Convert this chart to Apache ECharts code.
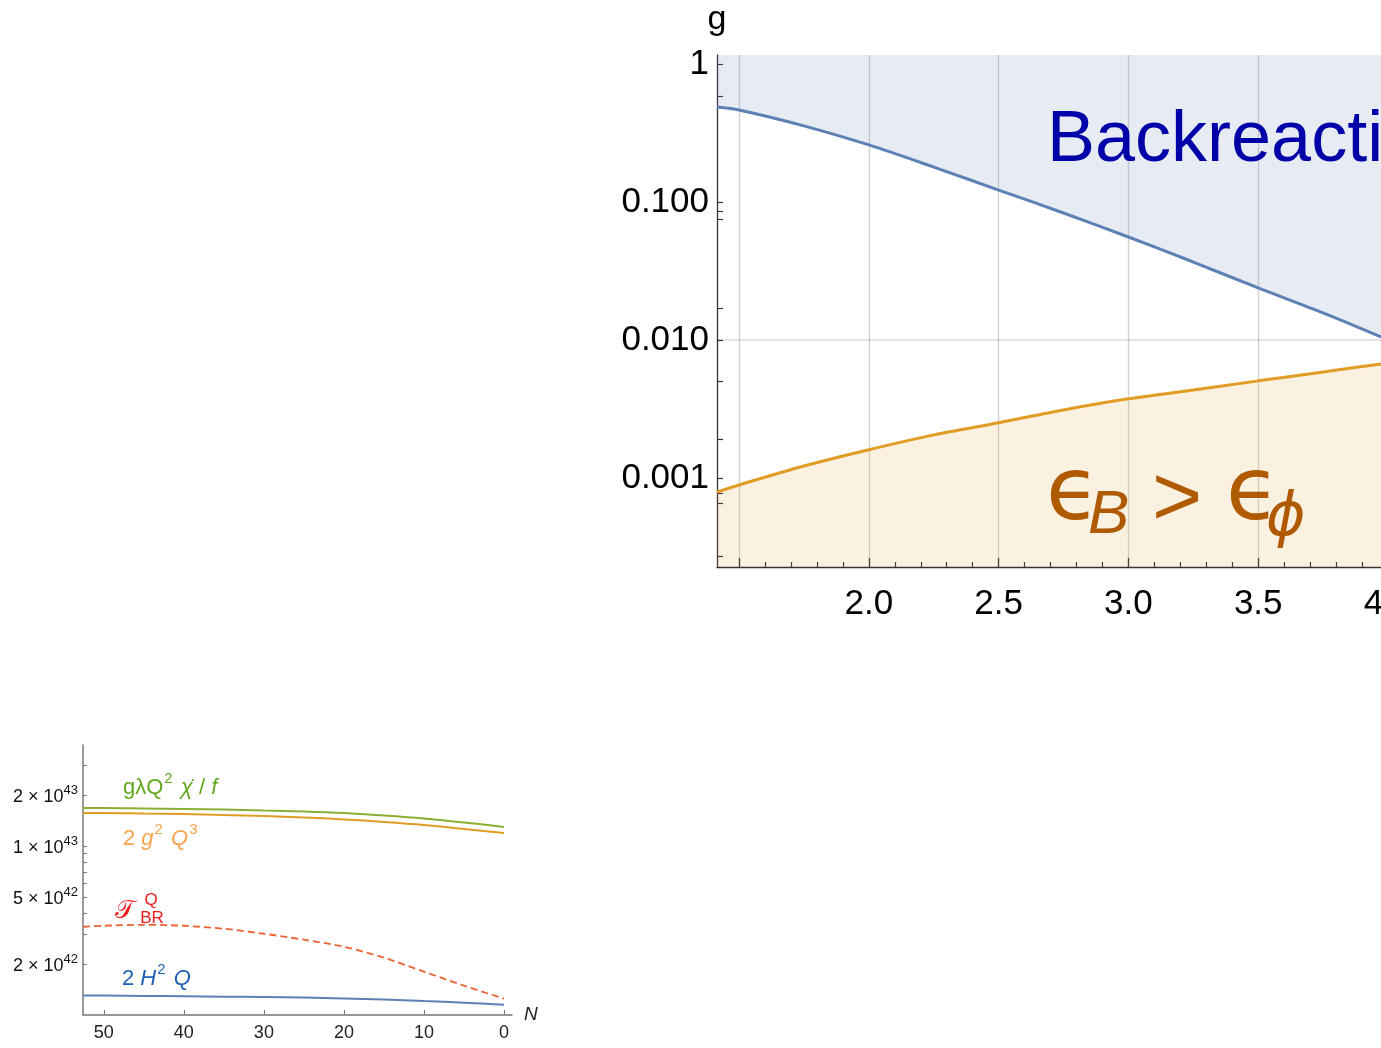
<!DOCTYPE html>
<html>
<head>
<meta charset="utf-8">
<script src="https://cdn.jsdelivr.net/npm/echarts@6/dist/echarts.min.js"></script>
<style>
html,body{margin:0;padding:0;background:#fff;}
#chart{width:1381px;height:1048px;}
</style>
</head>
<body>
<div id="chart"></div>
<script>
// ---------- Top chart data (x vs g, log y) ----------
const topX = [1.415, 1.5, 1.75, 2.0, 2.25, 2.5, 2.75, 3.0, 3.25, 3.5, 3.75, 4.0];
const backreactionG = [0.488, 0.464, 0.356, 0.259, 0.179, 0.122, 0.0832, 0.0557, 0.0367, 0.0238, 0.0157, 0.0100];
const energyG = [0.000792, 0.000889, 0.00122, 0.00160, 0.00205, 0.00251, 0.00311, 0.00374, 0.00434, 0.00505, 0.00586, 0.00681];
const topXMajor = [1.5, 2.0, 2.5, 3.0, 3.5, 4.0];
const topXLabels = [2.0, 2.5, 3.0, 3.5, 4.0];
const topXMinor = [1.6, 1.7, 1.8, 1.9, 2.1, 2.2, 2.3, 2.4, 2.6, 2.7, 2.8, 2.9, 3.1, 3.2, 3.3, 3.4, 3.6, 3.7, 3.8, 3.9];
const topYLabels = [0.001, 0.01, 0.1, 1];
const topYTicks = [0.00027, 0.00066, 0.00078, 0.001, 0.0019, 0.005, 0.01, 0.017, 0.075, 0.085, 0.1, 0.58, 1];

// ---------- Bottom chart data (N vs terms, log y) ----------
const nValues = [52.6, 50, 45, 40, 35, 30, 25, 20, 15, 10, 5, 0];
const termChi = [1.676e43, 1.676e43, 1.665e43, 1.654e43, 1.643e43, 1.620e43, 1.599e43, 1.566e43, 1.514e43, 1.453e43, 1.376e43, 1.295e43];
const termQ3 = [1.566e43, 1.566e43, 1.555e43, 1.545e43, 1.524e43, 1.503e43, 1.473e43, 1.434e43, 1.386e43, 1.330e43, 1.260e43, 1.193e43];
const termBR = [3.325e42, 3.370e42, 3.416e42, 3.370e42, 3.236e42, 3.023e42, 2.787e42, 2.533e42, 2.182e42, 1.804e42, 1.491e42, 1.250e42];
const termH = [1.302e42, 1.302e42, 1.297e42, 1.291e42, 1.284e42, 1.276e42, 1.267e42, 1.250e42, 1.233e42, 1.208e42, 1.183e42, 1.151e42];
const botXTicks = [0, 10, 20, 30, 40, 50];
const botYLabels = [2e42, 5e42, 1e43, 2e43];
const botYTicks = [2e42, 3e42, 4e42, 5e42, 6e42, 7e42, 8e42, 9e42, 1e43, 2e43, 3e43, 4e43];

const pair = (xs, ys) => xs.map((x, i) => [x, ys[i]]);
const FONT = '"Liberation Sans", Arial, sans-serif';

const chart = echarts.init(document.getElementById('chart'), null, {renderer: 'canvas'});

function sciLabel(v) {
  const e = Math.floor(Math.log10(v) + 1e-9);
  const m = Math.round(v / Math.pow(10, e));
  return '{m|' + m + ' \u00d7 10}{s|' + e + '}';
}

const supRich = {
  m: {fontSize: 22, fontFamily: FONT, verticalAlign: 'bottom', lineHeight: 27},
  i: {fontSize: 22, fontFamily: FONT, fontStyle: 'italic', verticalAlign: 'bottom', lineHeight: 27},
  s: {fontSize: 15, fontFamily: FONT, verticalAlign: 'top', lineHeight: 17, padding: [0, 2, 0, 1]}
};

const option = {
  animation: false,
  backgroundColor: '#fff',
  grid: [
    {left: 717, top: 55, width: 671, height: 512, outerBoundsMode: 'none', containLabel: false},
    {left: 83, top: 745, width: 429, height: 270, outerBoundsMode: 'none', containLabel: false}
  ],
  xAxis: [
    {
      type: 'value', gridIndex: 0, min: 1.415, max: 4.0,
      axisLine: {show: true, onZero: false, lineStyle: {color: '#333', width: 1.3}},
      axisTick: {show: true, inside: true, length: 9, customValues: topXMajor, lineStyle: {color: '#333', width: 1.3}},
      axisLabel: {show: true, customValues: topXLabels, formatter: v => Number(v).toFixed(1),
        fontSize: 35, fontFamily: FONT, color: '#000', margin: 20},
      splitLine: {show: true, lineStyle: {color: 'rgba(0,0,0,0.18)', width: 1.3}}
    },
    {
      type: 'value', gridIndex: 0, min: 1.415, max: 4.0, position: 'bottom',
      axisLine: {show: false, onZero: false},
      axisTick: {show: true, inside: true, length: 5, customValues: topXMinor, lineStyle: {color: '#333', width: 1.2}},
      axisLabel: {show: false},
      splitLine: {show: false}
    },
    {
      type: 'value', gridIndex: 1, min: -1, max: 52.6, inverse: true,
      name: 'N', nameLocation: 'start', nameGap: 12,
      nameTextStyle: {fontSize: 19, fontStyle: 'italic', fontFamily: FONT, color: '#222', verticalAlign: 'middle'},
      axisLine: {show: true, onZero: false, lineStyle: {color: '#777', width: 1.5}},
      axisTick: {show: true, inside: true, length: 5, customValues: botXTicks, lineStyle: {color: '#777'}},
      axisLabel: {show: true, customValues: botXTicks, fontSize: 18, fontFamily: FONT, color: '#222', margin: 9},
      splitLine: {show: false}
    }
  ],
  yAxis: [
    {
      type: 'log', logBase: 10, gridIndex: 0, min: 0.000226, max: 1.162, position: 'left',
      name: 'g', nameLocation: 'end', nameGap: 18,
      nameTextStyle: {fontSize: 34, fontFamily: FONT, color: '#000', align: 'center', verticalAlign: 'bottom'},
      axisLine: {show: true, onZero: false, lineStyle: {color: '#333', width: 1.3}},
      axisTick: {show: true, inside: true, length: 6, customValues: topYTicks, lineStyle: {color: '#333', width: 1.2}},
      axisLabel: {show: true, customValues: topYLabels,
        formatter: v => (v >= 0.999 ? '1' : Number(v).toFixed(3)),
        fontSize: 35, fontFamily: FONT, color: '#000', margin: 8},
      splitLine: {show: false}
    },
    {
      type: 'log', logBase: 10, gridIndex: 1, min: 1e42, max: 3.95e43, position: 'left',
      axisLine: {show: true, onZero: false, lineStyle: {color: '#777', width: 1.5}},
      axisTick: {show: true, inside: true, length: 4, customValues: botYTicks, lineStyle: {color: '#777'}},
      axisLabel: {show: true, customValues: botYLabels, formatter: sciLabel, margin: 5,
        rich: {
          m: {fontSize: 18, fontFamily: FONT, color: '#111', verticalAlign: 'bottom', lineHeight: 22},
          s: {fontSize: 13, fontFamily: FONT, color: '#111', verticalAlign: 'top', lineHeight: 13}
        }},
      splitLine: {show: false}
    }
  ],
  series: [
    {
      type: 'line', xAxisIndex: 0, yAxisIndex: 0, data: pair(topX, backreactionG),
      showSymbol: false, smooth: 0.3, z: 3,
      lineStyle: {color: '#5E81B5', width: 3},
      itemStyle: {color: '#5E81B5'},
      areaStyle: {origin: 'end', color: 'rgba(94,129,181,0.21)'},
      markLine: {
        silent: true, symbol: 'none', label: {show: false},
        lineStyle: {color: 'rgba(0,0,0,0.15)', width: 1.5, type: 'solid'},
        data: [{yAxis: 0.01}]
      }
    },
    {
      type: 'line', xAxisIndex: 0, yAxisIndex: 0, data: pair(topX, energyG),
      showSymbol: false, smooth: 0.3, z: 3,
      lineStyle: {color: '#E19C24', width: 3},
      itemStyle: {color: '#E19C24'},
      areaStyle: {origin: 'start', color: 'rgba(225,156,36,0.2)'}
    },
    {
      type: 'line', xAxisIndex: 2, yAxisIndex: 1, data: pair(nValues, termChi),
      showSymbol: false, smooth: 0.3,
      lineStyle: {color: '#8AAF34', width: 2}
    },
    {
      type: 'line', xAxisIndex: 2, yAxisIndex: 1, data: pair(nValues, termQ3),
      showSymbol: false, smooth: 0.3,
      lineStyle: {color: '#E19C24', width: 2}
    },
    {
      type: 'line', xAxisIndex: 2, yAxisIndex: 1, data: pair(nValues, termBR),
      showSymbol: false, smooth: 0.3,
      lineStyle: {color: '#EB6235', width: 1.8, type: [7, 4]}
    },
    {
      type: 'line', xAxisIndex: 2, yAxisIndex: 1, data: pair(nValues, termH),
      showSymbol: false, smooth: 0.3,
      lineStyle: {color: '#5E81B5', width: 2}
    }
  ],
  graphic: [
    {type: 'text', z: 100, style: {x: 1047, y: 141, text: 'Backreaction', font: '72px ' + FONT, fill: '#0000A8', verticalAlign: 'middle', align: 'left'}},
    {type: 'text', z: 100, style: {x: 1046, y: 496, text: '\u03f5', font: '88px "DejaVu Sans"', fill: '#B05A00', verticalAlign: 'middle', align: 'left'}},
    {type: 'text', z: 100, style: {x: 1088, y: 516, text: 'B', font: 'italic 62px ' + FONT, fill: '#B05A00', verticalAlign: 'middle', align: 'left'}},
    {type: 'text', z: 100, style: {x: 1152, y: 501, text: '>', font: '86px ' + FONT, fill: '#B05A00', verticalAlign: 'middle', align: 'left'}},
    {type: 'text', z: 100, style: {x: 1226, y: 496, text: '\u03f5', font: '88px "DejaVu Sans"', fill: '#B05A00', verticalAlign: 'middle', align: 'left'}},
    {type: 'text', z: 100, style: {x: 1266, y: 519, text: '\u03d5', font: 'italic 60px "DejaVu Sans"', fill: '#B05A00', verticalAlign: 'middle', align: 'left'}},

    {type: 'text', z: 100, style: {x: 123, y: 785, text: '{m|g\u03bbQ}{s|2}{m| }{i|\u03c7\u0307}{m| / }{i|f}', rich: supRich, fill: '#62A81F', verticalAlign: 'middle', align: 'left'}},
    {type: 'text', z: 100, style: {x: 123, y: 836, text: '{m|2 }{i|g}{s|2}{m| }{i|Q}{s|3}', rich: supRich, fill: '#F7A24F', verticalAlign: 'middle', align: 'left'}},
    {type: 'text', z: 100, style: {x: 115, y: 911, text: '\ud835\udcaf', font: '26px "DejaVu Serif", "DejaVu Sans", "Noto Sans"', fill: '#EE1C1C', verticalAlign: 'middle', align: 'left'}},
    {type: 'text', z: 100, style: {x: 151, y: 900, text: 'Q', font: '17px ' + FONT, fill: '#EE1C1C', verticalAlign: 'middle', align: 'center'}},
    {type: 'text', z: 100, style: {x: 152, y: 918, text: 'BR', font: '17px ' + FONT, fill: '#EE1C1C', verticalAlign: 'middle', align: 'center'}},
    {type: 'text', z: 100, style: {x: 122, y: 976, text: '{m|2 }{i|H}{s|2}{m| }{i|Q}', rich: supRich, fill: '#1D5FB4', verticalAlign: 'middle', align: 'left'}}
  ]
};
chart.setOption(option);
</script>
</body>
</html>
